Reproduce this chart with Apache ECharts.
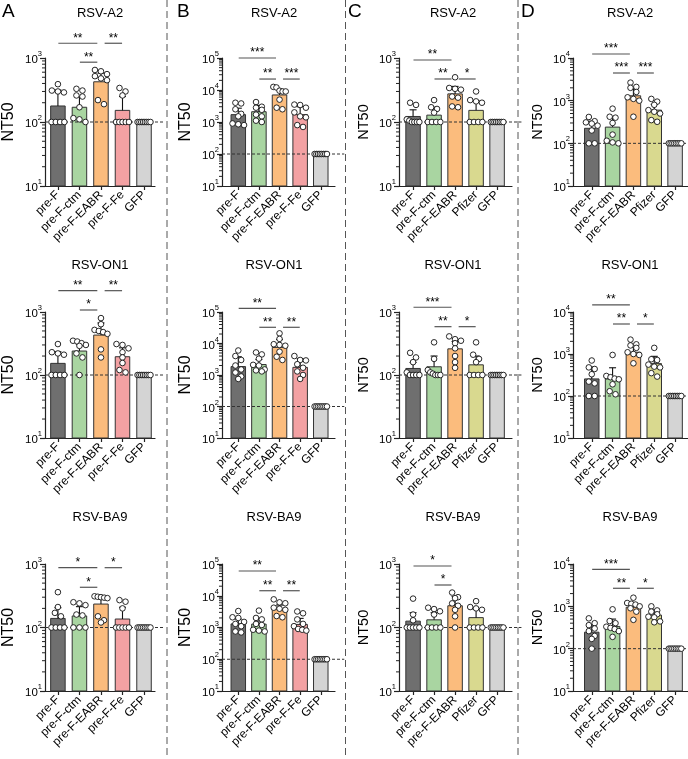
<!DOCTYPE html>
<html><head><meta charset="utf-8">
<script src="https://cdn.jsdelivr.net/npm/echarts@6/dist/echarts.min.js"></script>
<style>html,body{margin:0;padding:0;background:#fff}#c{width:688px;height:759px}</style>
</head><body><div id="c"></div>
<script>
// ---------------- DATA ----------------
const CATS_FE = ['pre-F', 'pre-F-ctm', 'pre-F-EABR', 'pre-F-Fe', 'GFP'];
const CATS_PF = ['pre-F', 'pre-F-ctm', 'pre-F-EABR', 'Pfizer', 'GFP'];
const STRAINS = ['RSV-A2', 'RSV-ON1', 'RSV-BA9'];
const PANEL_LETTERS = ['A', 'B', 'C', 'D'];
const Y_MAX = [1e3, 1e5, 1e3, 1e4];
const Y_MIN = 10;
const LOD = 100;
const N100 = [100, 100, 100, 100, 100, 100, 100, 100];

// Panel A
const MEAN_A_A2 = [178, 170, 425, 152, 100];
const ERR_A_A2 = [316, 250, 580, 250, null];
const PTS_A_A2 = [[390, 310, 300, 290, 100, 100, 100, 100], [330, 310, 260, 250, 170, 115, 110, 100], [650, 620, 560, 520, 480, 450, 220, 190], [340, 300, 260, 100, 100, 100, 100, 100], N100];
const SIG_A_A2 = [[0, 2, 1700, '**'], [2, 3, 1700, '**'], [1, 2, 860, '**']];
const MEAN_A_ON1 = [153, 240, 430, 195, 100];
const ERR_A_ON1 = [234, 305, 670, 270, null];
const PTS_A_ON1 = [[310, 230, 220, 210, 100, 100, 100, 100], [350, 340, 320, 300, 290, 220, 190, 100], [800, 640, 520, 500, 480, 450, 255, 190], [310, 300, 265, 230, 190, 155, 120, 110], N100];
const SIG_A_ON1 = [[0, 2, 2180, '**'], [2, 3, 2180, '**'], [1, 2, 1076, '*']];
const MEAN_A_BA9 = [139, 152, 234, 136, 100];
const ERR_A_BA9 = [205, 213, 306, 208, null];
const PTS_A_BA9 = [[360, 210, 170, 150, 100, 100, 100, 100], [250, 240, 225, 160, 155, 100, 100, 100], [310, 305, 300, 295, 290, 150, 130, 120], [270, 255, 200, 100, 100, 100, 100, 100], N100];
const SIG_A_BA9 = [[0, 2, 875, '*'], [2, 3, 875, '*'], [1, 2, 430, '*']];

// Panel B
const MEAN_B_A2 = [1700, 2100, 7000, 1700, 100];
const ERR_B_A2 = [2700, 3300, 10500, 3000, null];
const PTS_B_A2 = [[4000, 3800, 2500, 1800, 1500, 900, 850, 800], [4200, 3000, 2800, 2400, 1700, 1500, 1100, 1000], [12500, 12000, 9500, 9000, 9000, 5000, 2800, 2500], [3500, 3400, 2800, 2000, 1500, 1400, 800, 700], N100];
const SIG_B_A2 = [[0, 2, 100000, '***'], [1, 2, 22000, '**'], [2, 3, 22000, '***']];
const MEAN_B_ON1 = [1850, 2150, 7500, 1750, 100];
const ERR_B_ON1 = [3800, 3100, 13400, 3300, null];
const PTS_B_ON1 = [[6000, 4000, 3000, 2000, 1500, 1200, 900, 750], [5200, 4500, 3300, 2100, 2000, 1500, 1400, 1300], [21000, 14000, 9500, 9000, 8500, 5500, 3800, 3000], [4000, 3000, 2900, 2200, 1700, 1300, 1000, 750], N100];
const SIG_B_ON1 = [[0, 2, 131000, '**'], [1, 2, 32700, '**'], [2, 3, 32700, '**']];
const MEAN_B_BA9 = [1300, 1280, 3800, 1250, 100];
const ERR_B_BA9 = [1850, 1940, 5100, 1940, null];
const PTS_B_BA9 = [[3300, 2100, 2000, 1500, 1300, 1100, 750, 700], [3400, 2000, 1800, 1300, 1200, 850, 800, 750], [7700, 6200, 5800, 4200, 3900, 3600, 2300, 2100], [3200, 2800, 1800, 1300, 1100, 900, 850, 800], N100];
const SIG_B_BA9 = [[0, 2, 60200, '**'], [1, 2, 14400, '**'], [2, 3, 14400, '**']];

// Panel C
const MEAN_C_A2 = [122, 128, 275, 152, 100];
const ERR_C_A2 = [155, 170, 360, 215, null];
const PTS_C_A2 = [[200, 185, 110, 105, 100, 100, 100, 100], [220, 170, 160, 140, 100, 100, 100, 100], [500, 340, 330, 320, 250, 240, 175, 170], [300, 220, 210, 200, 100, 100, 100, 100], N100];
const SIG_C_A2 = [[0, 2, 930, '**'], [1, 2, 470, '**'], [2, 3, 470, '*']];
const MEAN_C_ON1 = [127, 135, 260, 145, 100];
const ERR_C_ON1 = [158, 200, 340, 200, null];
const PTS_C_ON1 = [[225, 190, 160, 110, 100, 100, 100, 100], [330, 180, 120, 110, 105, 100, 100, 100], [410, 370, 350, 320, 265, 200, 160, 130], [330, 210, 180, 160, 100, 100, 100, 100], N100];
const SIG_C_ON1 = [[0, 2, 1190, '***'], [1, 2, 585, '**'], [2, 3, 585, '*']];
const MEAN_C_BA9 = [126, 132, 220, 143, 100];
const ERR_C_BA9 = [171, 171, 307, 193, null];
const PTS_C_BA9 = [[285, 160, 130, 100, 100, 100, 100, 100], [205, 195, 180, 160, 100, 100, 100, 100], [355, 300, 290, 240, 220, 190, 150, 100], [260, 210, 200, 190, 100, 100, 100, 100], N100];
const SIG_C_BA9 = [[0, 2, 930, '*'], [1, 2, 467, '*']];

// Panel D
const MEAN_D_A2 = [225, 240, 1300, 600, 100];
const ERR_D_A2 = [330, 420, 1900, 820, null];
const PTS_D_A2 = [[415, 330, 310, 290, 260, 200, 100, 100], [650, 420, 400, 300, 160, 115, 105, 100], [2650, 2100, 2000, 1600, 1200, 1100, 1000, 420], [1100, 950, 800, 600, 550, 500, 350, 320], N100];
const SIG_D_A2 = [[0, 2, 12400, '***'], [1, 2, 4450, '***'], [2, 3, 4450, '***']];
const MEAN_D_ON1 = [255, 255, 1100, 590, 100];
const ERR_D_ON1 = [490, 470, 1450, 880, null];
const PTS_D_ON1 = [[700, 480, 440, 330, 220, 200, 100, 100], [950, 300, 280, 260, 250, 190, 130, 110], [2200, 1700, 1600, 1400, 1100, 1000, 950, 600], [1400, 750, 720, 560, 500, 480, 350, 290], N100];
const SIG_D_ON1 = [[0, 2, 14700, '**'], [1, 2, 5180, '**'], [2, 3, 5180, '*']];
const MEAN_D_BA9 = [245, 335, 950, 620, 100];
const ERR_D_BA9 = [363, 500, 1220, 820, null];
const PTS_D_BA9 = [[520, 400, 360, 300, 260, 200, 170, 100], [850, 450, 400, 330, 310, 290, 260, 190], [1600, 1200, 1150, 1100, 1000, 900, 750, 480], [1000, 800, 750, 650, 570, 550, 440, 420], N100];
const SIG_D_BA9 = [[0, 2, 7500, '***'], [1, 2, 2670, '**'], [2, 3, 2670, '*']];

// ---------------- STYLE / LAYOUT ----------------
const FONT = 'Arial, "Liberation Sans", Helvetica, sans-serif';
const COLORS_FE = ['#6f6f6f', '#a9d5a1', '#fbbc7d', '#f3a1a3', '#d4d4d4'];
const COLORS_PF = ['#6f6f6f', '#a9d5a1', '#fbbc7d', '#d9d98f', '#d4d4d4'];
const COL_LEFT = [45, 222, 399, 573];
const COL_WIDTH = [110, 113, 113, 115];
const COL_XMIN = [-0.6, -0.79, -0.67, -0.9];
const COL_XMAX = [4.51, 4.69, 4.71, 4.62];
const ROW_TOP = [58, 312, 564];
const ROW_H = [128, 126, 127];
const TITLE_X = [100, 274, 453, 630];
const TITLE_Y = [13, 265, 517];
const LETTER_X = [2, 177, 348, 521];
const SEP_X = [167, 345.5, 518];
const AX = '#222';
const SYM = 5.6;

const TABLE = [
  [[MEAN_A_A2, ERR_A_A2, PTS_A_A2, SIG_A_A2], [MEAN_B_A2, ERR_B_A2, PTS_B_A2, SIG_B_A2], [MEAN_C_A2, ERR_C_A2, PTS_C_A2, SIG_C_A2], [MEAN_D_A2, ERR_D_A2, PTS_D_A2, SIG_D_A2]],
  [[MEAN_A_ON1, ERR_A_ON1, PTS_A_ON1, SIG_A_ON1], [MEAN_B_ON1, ERR_B_ON1, PTS_B_ON1, SIG_B_ON1], [MEAN_C_ON1, ERR_C_ON1, PTS_C_ON1, SIG_C_ON1], [MEAN_D_ON1, ERR_D_ON1, PTS_D_ON1, SIG_D_ON1]],
  [[MEAN_A_BA9, ERR_A_BA9, PTS_A_BA9, SIG_A_BA9], [MEAN_B_BA9, ERR_B_BA9, PTS_B_BA9, SIG_B_BA9], [MEAN_C_BA9, ERR_C_BA9, PTS_C_BA9, SIG_C_BA9], [MEAN_D_BA9, ERR_D_BA9, PTS_D_BA9, SIG_D_BA9]]
];

function jitter(vals, thr) {
  const idx = vals.map((v, k) => k).sort((a, b) => vals[b] - vals[a]);
  const out = new Array(vals.length).fill(0);
  let cl = [];
  const flush = () => {
    const n = cl.length;
    const sp = n > 1 ? Math.min(0.28, 0.6 / (n - 1)) : 0;
    cl.forEach((k, m) => { out[k] = (m - (n - 1) / 2) * sp; });
    cl = [];
  };
  idx.forEach(k => {
    if (cl.length && Math.log10(vals[cl[0]]) - Math.log10(vals[k]) > thr) flush();
    cl.push(k);
  });
  flush();
  return out;
}

const grids = [], xAxes = [], yAxes = [], series = [], graphics = [];

for (let r = 0; r < 3; r++) {
  for (let c = 0; c < 4; c++) {
    const k = r * 4 + c;
    const cats = c < 2 ? CATS_FE : CATS_PF;
    const colors = c < 2 ? COLORS_FE : COLORS_PF;
    const [MEAN, ERR, PTS, SIG] = TABLE[r][c];
    const xMin = COL_XMIN[c], xMax = COL_XMAX[c];
    const yMax = Y_MAX[c];
    const decades = Math.log10(yMax / Y_MIN);
    const pxPerDec = ROW_H[r] / decades;
    grids.push({ left: COL_LEFT[c], top: ROW_TOP[r], width: COL_WIDTH[c], height: ROW_H[r] });
    xAxes.push({
      gridIndex: k, type: 'value', min: xMin, max: xMax,
      axisLine: { onZero: false, lineStyle: { color: AX, width: 1.2 } },
      axisTick: { show: true, customValues: [0, 1, 2, 3, 4], length: 4, lineStyle: { color: AX, width: 1.2 } },
      axisLabel: { customValues: [0, 1, 2, 3, 4], formatter: v => cats[Math.round(v)], rotate: 45, fontSize: 12, color: '#000', margin: 7, fontFamily: FONT },
      splitLine: { show: false }
    });
    yAxes.push({
      gridIndex: k, type: 'log', logBase: 10, min: Y_MIN, max: yMax,
      name: 'NT50', nameLocation: 'middle', nameGap: 28,
      nameTextStyle: { fontSize: c < 2 ? 16 : 14.5, color: '#000', fontFamily: FONT },
      axisLine: { show: true, onZero: false, lineStyle: { color: AX, width: 1.2 } },
      axisTick: { show: true, length: 5, lineStyle: { color: AX, width: 1.2 } },
      axisLabel: {
        margin: 3,
        formatter: v => '{b|10}{s|' + Math.round(Math.log10(v)) + '}',
        rich: {
          b: { fontSize: 11.5, fontFamily: FONT, color: '#000', lineHeight: 16, verticalAlign: 'bottom' },
          s: { fontSize: 7.5, fontFamily: FONT, color: '#000', lineHeight: 8, verticalAlign: 'top' }
        }
      },
      splitLine: { show: false }
    });
    // minor ticks
    const minors = [];
    for (let d = Y_MIN; d < yMax; d *= 10) for (let m = 2; m <= 9; m++) minors.push([xMin, m * d]);
    series.push({
      type: 'custom', xAxisIndex: k, yAxisIndex: k, clip: false, silent: true, z: 1,
      data: minors,
      renderItem: (p, api) => {
        const pt = api.coord([api.value(0), api.value(1)]);
        return { type: 'line', shape: { x1: pt[0] - 3, y1: pt[1], x2: pt[0], y2: pt[1] }, style: { stroke: AX, lineWidth: 1 } };
      }
    });
    // bars
    series.push({
      type: 'custom', xAxisIndex: k, yAxisIndex: k, clip: false, z: 2,
      data: MEAN.map((m, i) => [i, m]),
      renderItem: (p, api) => {
        const i = api.value(0);
        const top = api.coord([i, api.value(1)]);
        const base = api.coord([i, Y_MIN]);
        return { type: 'rect', shape: { x: top[0] - 7.25, y: top[1], width: 14.5, height: base[1] - top[1] },
          style: { fill: colors[i], stroke: '#333', lineWidth: 1 } };
      }
    });
    // LOD dashed line
    series.push({
      type: 'custom', xAxisIndex: k, yAxisIndex: k, clip: false, silent: true, z: 3,
      data: [[xMin, LOD]],
      renderItem: (p, api) => {
        const a = api.coord([xMin, LOD]), b = api.coord([xMax + 0.45, LOD]);
        return { type: 'line', shape: { x1: a[0], y1: a[1], x2: b[0], y2: b[1] }, style: { stroke: '#333', lineWidth: 1, lineDash: [3, 2] } };
      }
    });
    // error bars
    series.push({
      type: 'custom', xAxisIndex: k, yAxisIndex: k, clip: false, z: 4,
      data: MEAN.map((m, i) => [i, m, ERR[i]]).filter(d => d[2] != null),
      renderItem: (p, api) => {
        const i = api.value(0);
        const a = api.coord([i, api.value(1)]), b = api.coord([i, api.value(2)]);
        return { type: 'group', children: [
          { type: 'line', shape: { x1: a[0], y1: a[1], x2: b[0], y2: b[1] }, style: { stroke: '#111', lineWidth: 1.1 } },
          { type: 'line', shape: { x1: b[0] - 3.5, y1: b[1], x2: b[0] + 3.5, y2: b[1] }, style: { stroke: '#111', lineWidth: 1.1 } }
        ] };
      }
    });
    // points
    const thr = 0.9 * SYM / pxPerDec;
    series.push({
      type: 'scatter', xAxisIndex: k, yAxisIndex: k, z: 5,
      symbol: 'circle', symbolSize: SYM,
      itemStyle: { color: '#fff', borderColor: '#111', borderWidth: 0.9, opacity: 1 },
      data: PTS.flatMap((vals, i) => { const off = jitter(vals, thr); return vals.map((v, q) => [i + off[q], v]); })
    });
    // significance brackets
    const touches = (idx, self) => SIG.some((s, q) => q !== self && (s[0] === idx || s[1] === idx));
    series.push({
      type: 'custom', xAxisIndex: k, yAxisIndex: k, clip: false, z: 6,
      data: SIG.map(s => [s[0], s[2]]),
      renderItem: (p, api) => {
        const s = SIG[p.dataIndex];
        const li = s[0] + (touches(s[0], p.dataIndex) ? 0.17 : 0.02);
        const rj = s[1] - (touches(s[1], p.dataIndex) ? 0.17 : 0.02);
        const a = api.coord([li, s[2]]), b = api.coord([rj, s[2]]);
        return { type: 'group', children: [
          { type: 'line', shape: { x1: a[0], y1: a[1], x2: b[0], y2: b[1] }, style: { stroke: '#555', lineWidth: 1.2 } },
          { type: 'text', x: (a[0] + b[0]) / 2, y: a[1] - 5, style: { text: s[3], fill: '#000', font: '12px ' + FONT, textAlign: 'center', textVerticalAlign: 'middle' } }
        ] };
      }
    });
    // title
    graphics.push({ type: 'text', x: TITLE_X[c], y: TITLE_Y[r], style: { text: STRAINS[r], fill: '#000', font: '13px ' + FONT, textAlign: 'center', textVerticalAlign: 'middle' } });
  }
}
PANEL_LETTERS.forEach((L, c) => graphics.push({ type: 'text', x: LETTER_X[c], y: 12, style: { text: L, fill: '#000', font: '19px ' + FONT, textAlign: 'left', textVerticalAlign: 'middle' } }));
SEP_X.forEach(x => graphics.push({ type: 'line', shape: { x1: x, y1: 0, x2: x, y2: 759 }, style: { stroke: '#555', lineWidth: 1, lineDash: [7, 4] } }));

const chart = echarts.init(document.getElementById('c'), null, { renderer: 'canvas' });
chart.setOption({
  animation: false,
  backgroundColor: '#fff',
  grid: grids, xAxis: xAxes, yAxis: yAxes, series: series, graphic: graphics
});
</script></body></html>
